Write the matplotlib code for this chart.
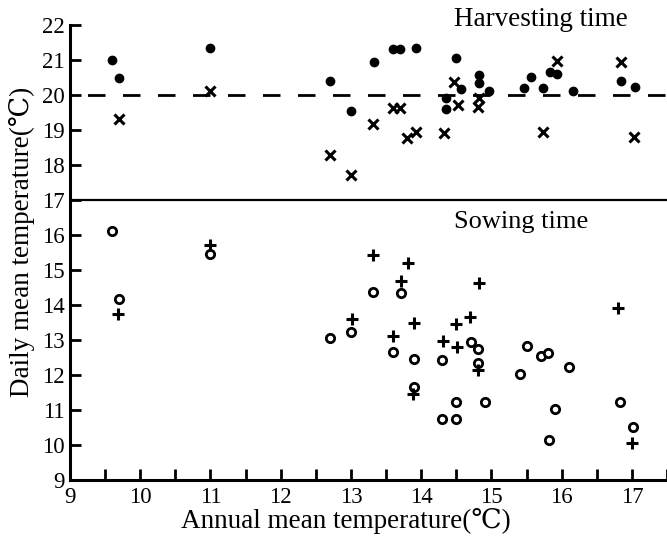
import numpy as np
import matplotlib.pyplot as plt

plt.rcParams['font.family'] = ['Liberation Serif', 'DejaVu Serif', 'DejaVu Sans']

# Harvesting time: filled dots and crosses
harv_dot_x = [9.6, 9.7, 11.0, 12.7, 13.0, 13.33, 13.6, 13.7, 13.93, 14.35, 14.35, 14.5,
              14.56, 14.83, 14.83, 14.96, 15.46, 15.56, 15.74, 15.83, 15.93, 16.16, 16.84, 17.04]
harv_dot_y = [21.0, 20.47, 21.35, 20.4, 19.55, 20.95, 21.3, 21.3, 21.35, 19.9, 19.6, 21.05,
              20.17, 20.57, 20.35, 20.1, 20.2, 20.5, 20.2, 20.66, 20.6, 20.1, 20.4, 20.23]
harv_x_x = [9.7, 11.0, 12.7, 13.0, 13.32, 13.6, 13.7, 13.8, 13.93, 14.33, 14.47, 14.53,
            14.81, 14.83, 15.73, 15.94, 16.84, 17.03]
harv_x_y = [19.3, 20.1, 18.27, 17.7, 19.17, 19.63, 19.63, 18.77, 18.95, 18.92, 20.37, 19.71,
            19.66, 19.9, 18.95, 20.97, 20.94, 18.8]

# Sowing time: open circles and plus signs
sow_o_x = [9.6, 9.7, 11.0, 12.7, 13.31, 13.71, 13.0, 13.6, 13.9, 13.9, 14.3, 14.71, 14.81,
           14.81, 15.51, 15.41, 15.71, 15.81, 16.1, 14.3, 14.5, 14.5, 14.91, 15.82, 15.9,
           16.83, 17.01]
sow_o_y = [16.1, 14.17, 15.46, 13.06, 14.37, 14.34, 13.23, 12.66, 12.46, 11.66, 12.43, 12.94,
           12.74, 12.34, 12.83, 12.03, 12.54, 12.63, 12.23, 10.74, 10.74, 11.23, 11.23, 10.14,
           11.03, 11.23, 10.51]
sow_p_x = [9.69, 11.0, 13.31, 13.81, 13.71, 14.83, 16.8, 13.01, 13.6, 13.9, 14.5, 14.69,
           14.31, 14.51, 14.81, 13.89, 17.0]
sow_p_y = [13.74, 15.71, 15.43, 15.2, 14.69, 14.63, 13.91, 13.6, 13.11, 13.49, 13.46, 13.66,
           12.97, 12.8, 12.14, 11.46, 10.06]

xticks = np.arange(9, 18, 1)
yticks = np.arange(9, 23, 1)

fig = plt.figure(figsize=(6.67, 5.41), dpi=100)
ax = fig.add_axes([0.105, 0.113, 0.895, 0.841])

ax.axhline(20, color='black', lw=2.0, ls=(6.3, (6.3, 6.3)), dash_capstyle='butt')
ax.axhline(17, color='black', lw=1.6)

ax.plot(harv_dot_x, harv_dot_y, 'o', color='black', ms=6, ls='none')
ax.plot(harv_x_x, harv_x_y, 'x', color='black', ms=7, mew=2.2, ls='none')
ax.plot(sow_o_x, sow_o_y, 'o', mfc='white', mec='black', ms=6, mew=2.0, ls='none')
ax.plot(sow_p_x, sow_p_y, '+', color='black', ms=8, mew=2.2, ls='none')

ax.text(15.71, 22.14, 'Harvesting time', ha='center', va='center', fontsize=19.5)
ax.text(15.43, 16.37, 'Sowing time', ha='center', va='center', fontsize=19)

ax.set_xlim(9, 17.5)
ax.set_ylim(9, 22)
ax.set_xticks(xticks)
ax.set_xticks(np.arange(9.5, 17.6, 1), minor=True)
ax.set_yticks(yticks)
ax.tick_params(axis='both', which='both', direction='in', length=8, width=2, labelsize=16.5)
ax.tick_params(axis='x', pad=5)
ax.tick_params(axis='y', pad=4)

for s in ['top', 'right']:
    ax.spines[s].set_visible(False)
for s in ['left', 'bottom']:
    ax.spines[s].set_linewidth(2.2)

ax.set_xlabel('Annual mean temperature(℃)', fontsize=19.5)
ax.set_ylabel('Daily mean temperature(℃)', fontsize=19.5)
ax.xaxis.set_label_coords(0.462, -0.062)
ax.yaxis.set_label_coords(-0.058, 0.522)

fig.savefig('out.png', dpi=100)
